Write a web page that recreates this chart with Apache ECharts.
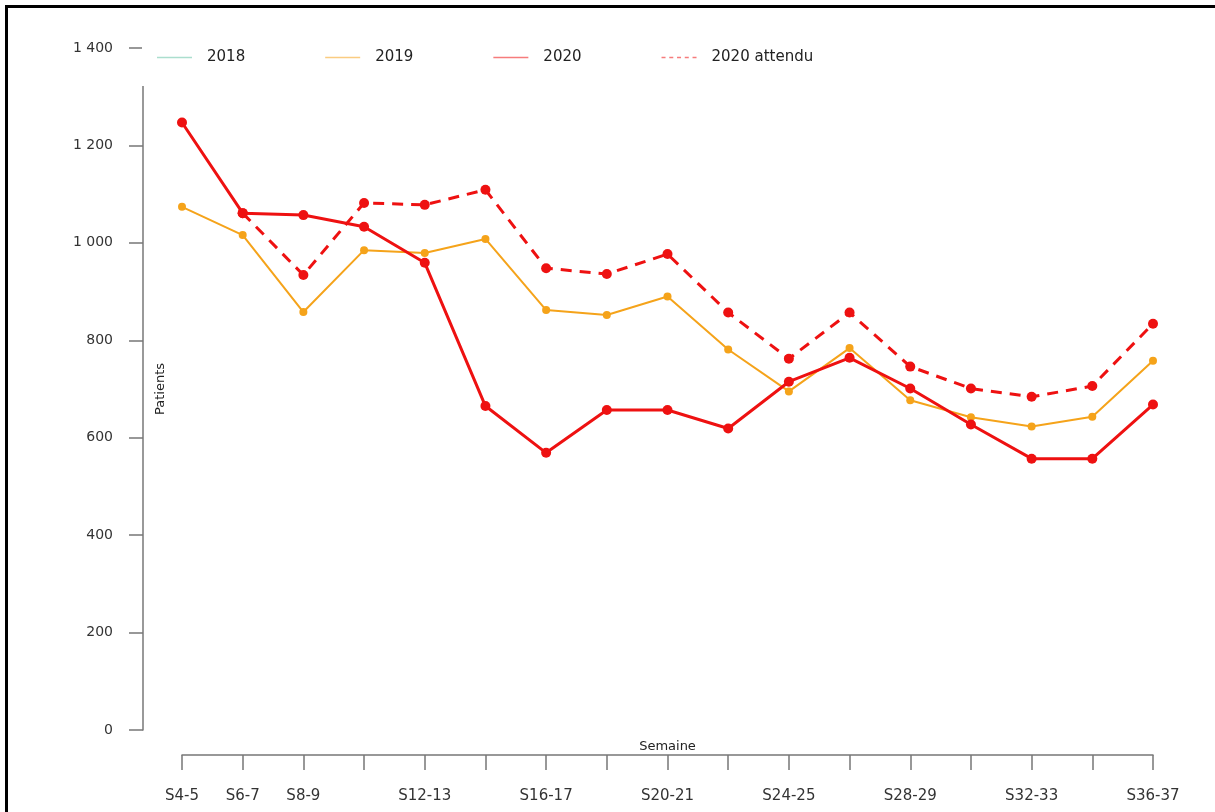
<!DOCTYPE html>
<html>
<head>
<meta charset="utf-8">
<title>Patients par semaine</title>
<script src="https://cdn.jsdelivr.net/npm/echarts@6/dist/echarts.min.js"></script>
<style>
	html, body { margin: 0; padding: 0; background: #fff; }
	#main { width: 1215px; height: 812px; }
</style>
</head>
<body>
<div id="main"></div>
<script>
var semaines = ['S4-5', 'S6-7', 'S8-9', 'S10-11', 'S12-13', 'S14-15', 'S16-17', 'S18-19', 'S20-21',
	'S22-23', 'S24-25', 'S26-27', 'S28-29', 'S30-31', 'S32-33', 'S34-35', 'S36-37'];
// labels that R kept on the x axis
var semainesAffichees = ['S4-5', 'S6-7', 'S8-9', 'S12-13', 'S16-17', 'S20-21', 'S24-25', 'S28-29', 'S32-33', 'S36-37'];
var patients2018 = [];
var patients2019 = [1074, 1016, 858, 985, 979, 1008, 862, 852, 890, 781, 695, 784, 677, 642, 623, 643, 758];
var patients2020 = [1247, 1061, 1057, 1033, 959, 665, 569, 657, 657, 619, 715, 764, 701, 627, 557, 557, 668];
var patients2020Attendu = [null, 1061, 934, 1082, 1078, 1109, 948, 936, 977, 857, 762, 857, 746, 701, 684, 706, 834];
var yTicks = [0, 200, 400, 600, 800, 1000, 1200, 1400];

var couleur2018 = '#66c2a5';
var couleur2019 = '#f5a31a';
var couleur2020 = '#ee1111';
var police = "'DejaVu Sans', 'Liberation Sans', sans-serif";
var trait = 'path://M0,0h35v1.5h-35z';
var pointille = 'path://M0,0h4v1.5h-4zM7.75,0h4v1.5h-4zM15.5,0h4v1.5h-4zM23.25,0h4v1.5h-4zM31,0h4v1.5h-4z';

var myChart = echarts.init(document.getElementById('main'));

option = {
	backgroundColor: '#fff',
	animation: false,
	textStyle: { fontFamily: police },
	graphic: [{
		type: 'rect',
		shape: { x: 6.5, y: 6.5, width: 1230, height: 830 },
		style: { fill: 'none', stroke: '#000', lineWidth: 3 },
		silent: true
	}],
	legend: {
		left: 142,
		top: 30,
		padding: [20, 10, 21, 15],
		backgroundColor: '#fff',
		itemWidth: 35,
		itemHeight: 14,
		itemGap: 80,
		textStyle: { fontSize: 15, color: '#222', fontFamily: police, padding: [0, 0, 0, 10] },
		// les traits de la légende sont pâles dans l'original
		data: [
			{ name: '2018', icon: trait, itemStyle: { color: couleur2018, opacity: 0.55 } },
			{ name: '2019', icon: trait, itemStyle: { color: couleur2019, opacity: 0.55 } },
			{ name: '2020', icon: trait, itemStyle: { color: couleur2020, opacity: 0.55 } },
			{ name: '2020 attendu', icon: pointille, itemStyle: { color: couleur2020, opacity: 0.55 } }
		]
	},
	grid: {
		left: 182,
		right: 62,
		top: 48,
		bottom: 82,
		outerBoundsMode: 'none'
	},
	xAxis: {
		type: 'category',
		data: semaines,
		boundaryGap: false,
		offset: 25,
		name: 'Semaine',
		nameLocation: 'middle',
		nameGap: -15,
		nameMoveOverlap: false,
		nameTextStyle: { fontSize: 13, color: '#222', fontFamily: police },
		axisLine: { onZero: false, lineStyle: { color: '#777', width: 1.5 } },
		axisTick: { interval: 0, length: 15, lineStyle: { color: '#777', width: 1.5 } },
		axisLabel: {
			interval: 0,
			margin: 34,
			fontSize: 15,
			color: '#333',
			fontFamily: police,
			formatter: function(value) {
				return semainesAffichees.indexOf(value) >= 0 ? value : '';
			}
		},
		splitLine: { show: false }
	},
	yAxis: {
		type: 'value',
		min: yTicks[0],
		max: yTicks[yTicks.length - 1],
		interval: 200,
		offset: 39,
		name: 'Patients',
		nameLocation: 'middle',
		nameRotate: 90,
		nameGap: -24,
		nameMoveOverlap: false,
		nameTextStyle: { fontSize: 13, color: '#222', fontFamily: police },
		axisLine: { show: true, lineStyle: { color: '#777', width: 1.5 } },
		axisTick: { show: true, length: 14, lineStyle: { color: '#777', width: 1.5 } },
		axisLabel: {
			margin: 30,
			fontSize: 14,
			color: '#333',
			fontFamily: police,
			formatter: function(v) {
				return String(v).replace(/\B(?=(\d{3})+(?!\d))/g, ' ');
			}
		},
		splitLine: { show: false }
	},
	series: [{
		name: '2018',
		type: 'line',
		color: couleur2018,
		data: patients2018
	}, {
		name: '2019',
		type: 'line',
		color: couleur2019,
		symbol: 'circle',
		symbolSize: 8,
		lineStyle: { width: 2 },
		data: patients2019
	}, {
		name: '2020',
		type: 'line',
		color: couleur2020,
		symbol: 'circle',
		symbolSize: 10,
		lineStyle: { width: 3 },
		data: patients2020
	}, {
		name: '2020 attendu',
		type: 'line',
		color: couleur2020,
		symbol: 'circle',
		symbolSize: 10,
		lineStyle: { width: 3, type: [11, 8] },
		data: patients2020Attendu
	}]
};
myChart.setOption(option);
</script>
</body>
</html>
